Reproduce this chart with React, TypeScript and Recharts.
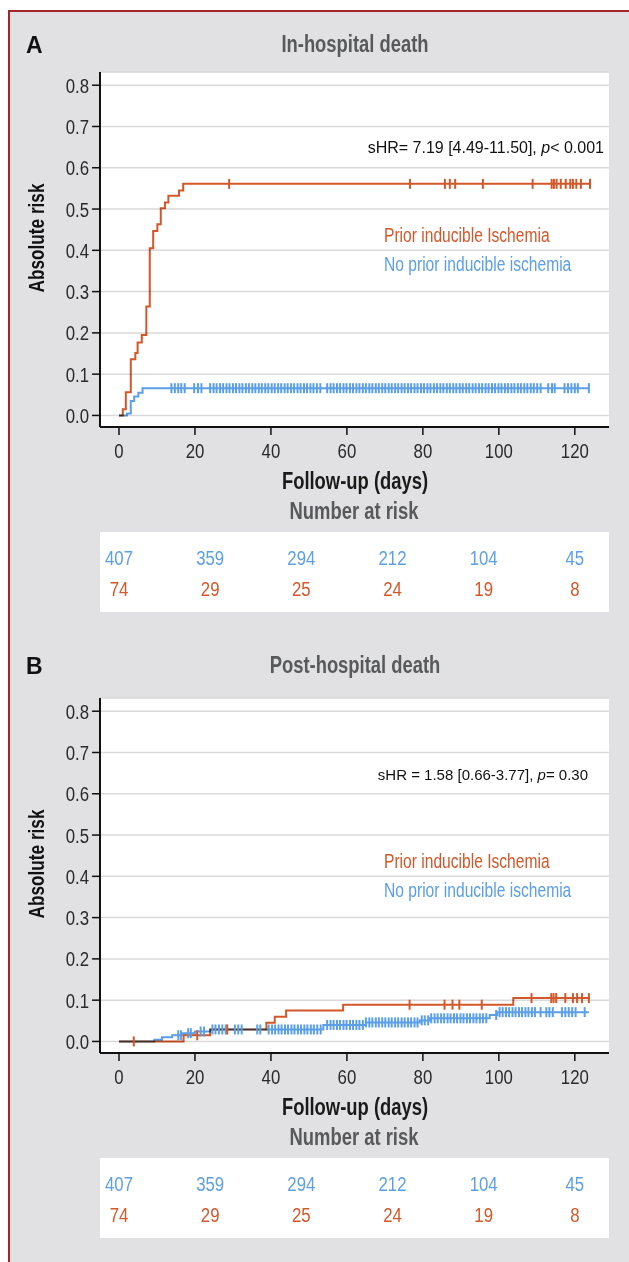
import React from 'react'
import { ComposedChart, Line, Scatter, XAxis, YAxis, CartesianGrid } from 'recharts'

const X_TICKS = [0, 20, 40, 60, 80, 100, 120]
const Y_TICKS = [0, 0.1, 0.2, 0.3, 0.4, 0.5, 0.6, 0.7, 0.8]

// number at risk table
const RISK_DAYS = [0, 24, 48, 72, 96, 120]
const RISK_NO_ISCHEMIA = [407, 359, 294, 212, 104, 45]
const RISK_ISCHEMIA = [74, 29, 25, 24, 19, 8]

// panel A: in-hospital death, [day, absolute risk]
const A_ISCH_STEPS = [
  [0, 0], [1, 0.015], [1.8, 0.056], [3.1, 0.136], [4.3, 0.151], [4.9, 0.177],
  [6, 0.195], [7.2, 0.264], [8.1, 0.405], [9, 0.447], [10.1, 0.463], [11, 0.502],
  [12.1, 0.516], [13, 0.532], [15.8, 0.545], [16.9, 0.561], [124, 0.561],
]
const A_NOISCH_STEPS = [
  [0, 0], [2.1, 0.005], [3.1, 0.035], [4, 0.046], [5.1, 0.055], [6.2, 0.066], [123.7, 0.066],
]
const A_ISCH_CENSOR = [
  29, 76.6, 85.8, 87.1, 88.5, 95.8, 108.9, 113.9, 114.5, 115.2, 116.3, 117.6,
  118.8, 119.5, 120.4, 121.6, 124,
]
const A_NOISCH_CENSOR = [
  13.8, 14.7, 15.6, 16.4, 17.3, 19.8, 20.8, 21.7,
  24.0, 24.9, 25.7, 26.6, 27.4, 28.3, 29.1, 30.0, 30.8, 31.7, 32.5, 33.4, 34.2, 35.1,
  35.9, 36.8, 37.6, 38.5, 39.3, 40.2, 41.0, 41.9, 42.7, 43.6, 44.4, 45.3, 46.1, 47.0,
  47.8, 48.7, 49.5, 50.4, 51.2, 52.1, 53.0,
  54.8, 55.7, 56.5, 57.4, 58.2, 59.1, 59.9, 60.8, 61.6, 62.5, 63.3, 64.2, 65.0, 65.9,
  66.7, 67.6, 68.4, 69.3, 70.1, 71.0, 71.8, 72.7, 73.5, 74.4, 75.2, 76.1, 76.9, 77.8,
  78.6, 79.5, 80.3, 81.2, 82.0, 82.9, 83.7, 84.6, 85.4, 86.3, 87.1, 88.0, 88.8, 89.7,
  90.5, 91.4, 92.2, 93.1, 93.9, 94.8, 95.6, 96.5, 97.3, 98.2, 99.0, 99.9, 100.7, 101.6,
  102.4, 103.3, 104.1, 105.0, 105.8, 106.7, 107.5, 108.4, 109.2, 110.1,
  111.0, 113.0, 114.0, 114.7, 117.3, 118.2, 119.1, 120.0, 120.8, 123.7,
]

// panel B: post-hospital death
const B_ISCH_STEPS = [
  [0, 0], [17, 0.015], [24, 0.029], [38.8, 0.045], [41, 0.06], [44, 0.075],
  [59, 0.089], [103.8, 0.105], [124, 0.105],
]
const B_NOISCH_STEPS = [
  [0, 0], [9.3, 0.004], [11.3, 0.01], [14, 0.015], [16.5, 0.02], [20, 0.024], [24, 0.029],
  [53.8, 0.04], [65, 0.046], [79.2, 0.051], [81.8, 0.056], [97.6, 0.064], [99.6, 0.071],
  [123.7, 0.071],
]
const B_ISCH_CENSOR = [
  3.9, 20.6, 28.5, 76.5, 85.7, 87.8, 89.6, 95.5, 108.6, 113.8, 114.4, 115.1,
  117.5, 119.5, 120.6, 121.9, 123.7,
]
const B_NOISCH_CENSOR = [
  15.6, 16.3, 18.2, 18.9, 21.5, 22.4, 24.6, 25.4, 26.3, 27.2, 28.1, 30.5, 31.4, 32.3,
  36.4, 37.2,
  39.4, 40.3, 41.1, 42.0, 42.8, 43.7, 44.5, 45.4, 46.2, 47.1, 47.9, 48.8, 49.6, 50.5,
  51.3, 52.2, 53.1,
  54.8, 55.7, 56.5, 57.4, 58.2, 59.1, 59.9, 60.8, 61.6, 62.5, 63.3, 64.2, 65.0, 65.9,
  66.7, 67.6, 68.4, 69.3, 70.1, 71.0, 71.8, 72.7, 73.5, 74.4, 75.2, 76.1, 76.9, 77.8, 78.6,
  79.7, 80.5, 81.4, 82.2, 83.1, 83.9, 84.8, 85.6, 86.5, 87.3, 88.2, 89.0, 89.9, 90.7,
  91.6, 92.4, 93.3, 94.1, 95.0, 95.8, 96.7,
  99.3, 100.2, 101.0, 101.9, 102.7, 103.6, 104.4, 105.3, 106.1, 107.0, 107.8, 108.7, 109.5,
  111.0, 112.5, 113.3, 114.2, 116.6, 117.5, 118.4, 119.3, 120.2, 122.6,
]

const RED = '#d4572a'
const BLUE = '#5b9fe6'
const GRAY_TXT = '#58595b'
const SANS = "'Liberation Sans', Arial, sans-serif"
// squeeze factor to imitate the condensed face of the original
const SQ = 0.8

const toLine = (steps: number[][]) => steps.map(([t, v]) => ({ t, v }))
const stepAt = (steps: number[][], t: number) => {
  let v = steps[0][1]
  for (const [s, val] of steps) if (s <= t) v = val
  return v
}
const toMarks = (times: number[], steps: number[][]) => times.map((t) => ({ t, v: stepAt(steps, t) }))
const toRisk = (counts: number[], row: number) => counts.map((n, i) => ({ t: RISK_DAYS[i], row, n }))

const censorMark = (color: string) => (p: any) => (
  <line x1={p.cx} x2={p.cx} y1={p.cy - 5} y2={p.cy + 5} stroke={color} strokeWidth={2} />
)
const riskLabel = (color: string) => (p: any) => (
  <text transform={`translate(${p.cx},${p.cy}) scale(${SQ},1)`} textAnchor="middle" dy="0.36em"
    fontFamily={SANS} fontSize={21} fill={color}>{p.payload.n}</text>
)
const XTick = (p: any) => (
  <text transform={`translate(${p.x},${p.y}) scale(${SQ},1)`} textAnchor="middle" dy="0.72em"
    fontFamily={SANS} fontSize={21} fill="#2a2a2a">{p.payload.value}</text>
)
const YTick = (p: any) => (
  <text transform={`translate(${p.x},${p.y}) scale(${SQ},1)`} textAnchor="end" dy="0.36em"
    fontFamily={SANS} fontSize={21} fill="#2a2a2a">{Number(p.payload.value).toFixed(1)}</text>
)

type TxtProps = {
  x: number; y: number; anchor?: 'start' | 'middle' | 'end'; size: number; bold?: boolean
  color?: string; squeeze?: number; rotate?: boolean; children: React.ReactNode
}
const Txt = ({ x, y, anchor = 'middle', size, bold, color = '#111', squeeze = SQ, rotate, children }: TxtProps) => {
  const tx = anchor === 'middle' ? '-50%' : anchor === 'end' ? '-100%' : '0'
  const origin = anchor === 'middle' ? 'center' : anchor === 'end' ? 'right center' : 'left center'
  return (
    <div style={{
      position: 'absolute', left: x, top: y, whiteSpace: 'nowrap', lineHeight: 1,
      transformOrigin: origin,
      transform: `translate(${tx}, -50%)${rotate ? ' rotate(-90deg)' : ''} scaleX(${squeeze})`,
      fontSize: size, fontWeight: bold ? 700 : 400, color, fontFamily: SANS,
    }}>{children}</div>
  )
}

type PanelProps = {
  top: number; letter: string; title: string; titleY: number
  hr: React.ReactNode; hrRight: number; hrSize: number
  isch: number[][]; noIsch: number[][]; ischCensor: number[]; noIschCensor: number[]
}

function Panel({ top, letter, title, titleY, hr, hrRight, hrSize, isch, noIsch, ischCensor, noIschCensor }: PanelProps) {
  return (
    <>
      <Txt x={26} y={top + titleY} anchor="start" size={23} bold squeeze={1}>{letter}</Txt>
      <Txt x={355} y={top + titleY - 1} size={23} bold color={GRAY_TXT}>{title}</Txt>
      <Txt x={38} y={top + 238} size={21.5} bold rotate>Absolute risk</Txt>

      <div className="km" style={{ position: 'absolute', left: 0, top }}>
        <ComposedChart width={629} height={470} margin={{ top: 72, right: 20, bottom: 13, left: 40 }}>
          <CartesianGrid vertical={false} fill="#fff" stroke="#d9d9d9" strokeWidth={1.5} />
          <XAxis type="number" dataKey="t" domain={[-5, 129]} ticks={X_TICKS} allowDataOverflow
            height={30} tickSize={8} tickMargin={8}
            axisLine={{ stroke: '#111', strokeWidth: 2 }} tickLine={{ stroke: '#111', strokeWidth: 1.5 }}
            tick={XTick} />
          <YAxis type="number" dataKey="v" domain={[-0.028, 0.832]} ticks={Y_TICKS} allowDataOverflow
            width={60} tickSize={8} tickMargin={3}
            axisLine={{ stroke: '#111', strokeWidth: 2 }} tickLine={{ stroke: '#111', strokeWidth: 1.5 }}
            tick={YTick} />
          <Line data={toLine(noIsch)} dataKey="v" type="stepAfter" stroke={BLUE} strokeWidth={2}
            dot={false} activeDot={false} isAnimationActive={false} />
          <Line data={toLine(isch)} dataKey="v" type="stepAfter" stroke={RED} strokeWidth={2}
            dot={false} activeDot={false} isAnimationActive={false} />
          <Scatter data={toMarks(noIschCensor, noIsch)} dataKey="v" shape={censorMark(BLUE)} isAnimationActive={false} />
          <Scatter data={toMarks(ischCensor, isch)} dataKey="v" shape={censorMark(RED)} isAnimationActive={false} />
        </ComposedChart>
      </div>

      <Txt x={hrRight} y={top + 148} anchor="end" size={hrSize} squeeze={1}>{hr}</Txt>
      <Txt x={384} y={top + 236} anchor="start" size={19.5} color={RED}>Prior inducible Ischemia</Txt>
      <Txt x={384} y={top + 265} anchor="start" size={19.5} color={BLUE}>No prior inducible ischemia</Txt>

      <Txt x={355} y={top + 481} size={23} bold color="#1a1a1a">Follow-up (days)</Txt>
      <Txt x={354} y={top + 511} size={23} bold color={GRAY_TXT}>Number at risk</Txt>

      <div style={{ position: 'absolute', left: 0, top: top + 532 }}>
        <ComposedChart width={629} height={80} margin={{ top: 0, right: 20, bottom: 0, left: 100 }}>
          <CartesianGrid horizontal={false} vertical={false} fill="#fff" />
          <XAxis type="number" dataKey="t" domain={[-5, 129]} hide />
          <YAxis type="number" dataKey="row" domain={[-0.8, 1.75]} reversed hide />
          <Scatter data={toRisk(RISK_NO_ISCHEMIA, 0)} dataKey="row" shape={riskLabel(BLUE)} isAnimationActive={false} />
          <Scatter data={toRisk(RISK_ISCHEMIA, 1)} dataKey="row" shape={riskLabel(RED)} isAnimationActive={false} />
        </ComposedChart>
      </div>
    </>
  )
}

export default function App() {
  return (
    <div style={{ position: 'relative', width: 629, height: 1262, background: '#fff', overflow: 'hidden' }}>
      <style>{'body{margin:0} .km .recharts-line-curve{mix-blend-mode:multiply}'}</style>
      <div style={{
        position: 'absolute', left: 8, top: 10, width: 621, height: 1252, boxSizing: 'border-box',
        background: '#e1e1e3', borderLeft: '2.5px solid #a3242a', borderTop: '2.5px solid #a3242a',
      }} />
      <Panel top={0} letter="A" title="In-hospital death" titleY={45}
        hr={<>sHR= 7.19 [4.49-11.50], <i>p</i>&lt; 0.001</>} hrRight={604} hrSize={16}
        isch={A_ISCH_STEPS} noIsch={A_NOISCH_STEPS} ischCensor={A_ISCH_CENSOR} noIschCensor={A_NOISCH_CENSOR} />
      <Panel top={626} letter="B" title="Post-hospital death" titleY={40}
        hr={<>sHR = 1.58 [0.66-3.77], <i>p</i>= 0.30</>} hrRight={588} hrSize={15}
        isch={B_ISCH_STEPS} noIsch={B_NOISCH_STEPS} ischCensor={B_ISCH_CENSOR} noIschCensor={B_NOISCH_CENSOR} />
    </div>
  )
}
